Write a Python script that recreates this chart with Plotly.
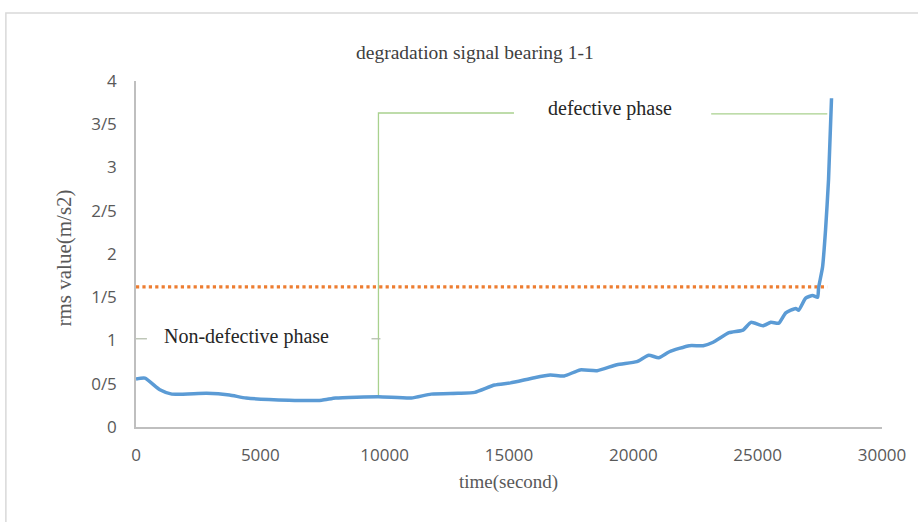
import plotly.graph_objects as go

# ---- data ----
time_s = [0, 360, 960, 1440, 2840, 3760, 4430, 6150, 7470, 8030, 9750, 11070, 11870,
          12950, 13620, 14420, 15060, 16020, 16660, 17220, 17860, 18540, 19340, 20140,
          20620, 21020, 21450, 22250, 22810, 23210, 23850, 24410, 24730, 25210, 25530,
          25850, 26130, 26530, 26650, 26930, 27210, 27410, 27450, 27610, 27730, 27850, 27970]
rms = [0.555, 0.565, 0.43, 0.38, 0.39, 0.37, 0.335, 0.31, 0.31, 0.335, 0.35, 0.335, 0.38,
       0.39, 0.40, 0.485, 0.51, 0.57, 0.60, 0.59, 0.66, 0.65, 0.72, 0.755,
       0.83, 0.80, 0.87, 0.94, 0.94, 0.98, 1.09, 1.12, 1.21, 1.17, 1.21,
       1.20, 1.32, 1.37, 1.35, 1.49, 1.52, 1.50, 1.61, 1.85, 2.28, 2.86, 3.80]

threshold_x = [0, 27800]
threshold_y = [1.62, 1.62]

phase_left_x = [9750, 9750, 15200]
phase_left_y = [0.35, 3.63, 3.63]
phase_right_x = [23130, 27800]
phase_right_y = [3.62, 3.62]

mark1_x = [0, 440]
mark1_y = [1.02, 1.02]
mark2_x = [9470, 9830]
mark2_y = [1.02, 1.02]

x_ticks = [0, 5000, 10000, 15000, 20000, 25000, 30000]
y_ticks = [0, 0.5, 1, 1.5, 2, 2.5, 3, 3.5, 4]
y_tick_text = ["0", "0/5", "1", "1/5", "2", "2/5", "3", "3/5", "4"]

# ---- figure ----
fig = go.Figure()
fig.add_trace(go.Scatter(x=phase_left_x, y=phase_left_y, mode="lines",
                         line=dict(color="#A9D18E", width=1.3), hoverinfo="skip"))
fig.add_trace(go.Scatter(x=phase_right_x, y=phase_right_y, mode="lines",
                         line=dict(color="#A9D18E", width=1.3), hoverinfo="skip"))
fig.add_trace(go.Scatter(x=mark1_x, y=mark1_y, mode="lines",
                         line=dict(color="#B5BFAE", width=1.3), hoverinfo="skip"))
fig.add_trace(go.Scatter(x=mark2_x, y=mark2_y, mode="lines",
                         line=dict(color="#B5BFAE", width=1.3), hoverinfo="skip"))
fig.add_trace(go.Scatter(x=threshold_x, y=threshold_y, mode="lines",
                         line=dict(color="#ED7D31", width=3.2, dash="dot")))
fig.add_trace(go.Scatter(x=time_s, y=rms, mode="lines",
                         line=dict(color="#5B9BD5", width=3.5, shape="spline", smoothing=0.5)))

W, H = 918, 522
L, R, T, B = 136, 31, 81, 95
pw, ph = W - L - R, H - T - B

def px(x):
    return (x - L) / pw

def py(y):
    return (H - B - y) / ph

serif = "Liberation Serif"

def label(text, x, y, size, color, angle=0):
    return dict(text=text, xref="paper", yref="paper", x=px(x), y=py(y),
                xanchor="center", yanchor="middle", showarrow=False, textangle=angle,
                font=dict(family=serif, size=size, color=color))

fig.update_layout(
    width=W, height=H,
    margin=dict(l=L, r=R, t=T, b=B, pad=0),
    paper_bgcolor="white", plot_bgcolor="white",
    showlegend=False,
    xaxis=dict(range=[0, 30000], tickvals=x_ticks, ticktext=[str(v) for v in x_ticks],
               showgrid=False, zeroline=False, showline=True, linecolor="#BFBFBF",
               linewidth=1.5, ticks="", ticklabelstandoff=12,
               tickfont=dict(family="Open Sans", size=17, color="#595959")),
    yaxis=dict(range=[0, 4], tickvals=y_ticks, ticktext=y_tick_text,
               showgrid=False, zeroline=False, showline=True, linecolor="#BFBFBF",
               linewidth=1.5, ticks="", ticklabelstandoff=14,
               tickfont=dict(family="Open Sans", size=17, color="#595959")),
    shapes=[dict(type="rect", xref="paper", yref="paper",
                 x0=px(5), x1=px(930), y0=py(540), y1=py(13),
                 line=dict(color="#D9D9D9", width=1.5), layer="below")],
    annotations=[
        label("degradation signal bearing 1-1", 477, 52, 19.5, "#404040"),
        label("defective phase", 613, 109, 20, "#262626"),
        label("Non-defective phase", 247, 336, 20, "#262626"),
        label("time(second)", 511, 482, 19, "#595959"),
        label("rms value(m/s2)", 64, 258, 21, "#595959", angle=-90),
    ],
)

fig.write_html("out.html")
